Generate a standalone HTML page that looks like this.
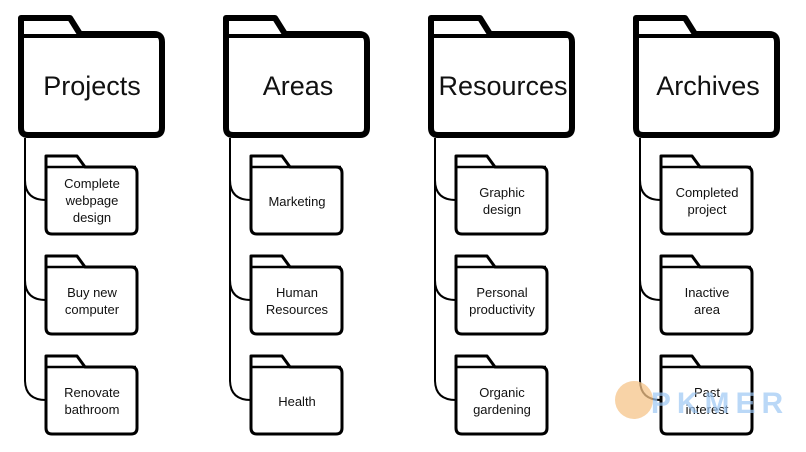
<!DOCTYPE html>
<html><head><style>
html,body{margin:0;padding:0;background:#fff;}
svg text{font-family:"Liberation Sans","DejaVu Sans",sans-serif;fill:#111;text-anchor:middle;}
</style></head><body>
<svg width="806" height="447" viewBox="0 0 806 447" xmlns="http://www.w3.org/2000/svg">
<defs>
<g id="col">
  <path d="M21 18 L70 18 L80 34 L154 34 Q162 34 162 42 L162 128 Q162 135 155 135 L28 135 Q21 135 21 128 Z" fill="#fff" stroke="#000" stroke-width="6" stroke-linejoin="round"/>
  <line x1="21" y1="36" x2="160" y2="36" stroke="#000" stroke-width="4"/>
  <path d="M25 138 L25 180 Q25 200 46 200" fill="none" stroke="#000" stroke-width="2"/>
  <path d="M25 180 L25 280 Q25 300 46 300" fill="none" stroke="#000" stroke-width="2"/>
  <path d="M25 280 L25 380 Q25 400 46 400" fill="none" stroke="#000" stroke-width="2"/>
  <g id="sf">
    <path d="M46 156 L77 156 L85 167 L131 167 Q137 167 137 173 L137 228 Q137 234 131 234 L52 234 Q46 234 46 228 Z" fill="#fff" stroke="#000" stroke-width="3" stroke-linejoin="round"/>
    <line x1="46" y1="167" x2="136" y2="167" stroke="#000" stroke-width="2.5"/>
  </g>
  <use href="#sf" y="100"/>
  <use href="#sf" y="200"/>
</g>
</defs>
<use href="#col" x="0"/>
<use href="#col" x="205"/>
<use href="#col" x="410"/>
<use href="#col" x="615"/>
<g font-size="27">
<text x="92" y="95">Projects</text>
<text x="298" y="95">Areas</text>
<text x="503" y="95">Resources</text>
<text x="708" y="95">Archives</text>
</g>
<g font-size="13">
<text x="92" y="188">Complete</text><text x="92" y="205">webpage</text><text x="92" y="222">design</text>
<text x="92" y="297">Buy new</text><text x="92" y="314">computer</text>
<text x="92" y="397">Renovate</text><text x="92" y="414">bathroom</text>
<text x="297" y="206">Marketing</text>
<text x="297" y="297">Human</text><text x="297" y="314">Resources</text>
<text x="297" y="406">Health</text>
<text x="502" y="197">Graphic</text><text x="502" y="214">design</text>
<text x="502" y="297">Personal</text><text x="502" y="314">productivity</text>
<text x="502" y="397">Organic</text><text x="502" y="414">gardening</text>
<text x="707" y="197">Completed</text><text x="707" y="214">project</text>
<text x="707" y="297">Inactive</text><text x="707" y="314">area</text>
<text x="707" y="397">Past</text><text x="707" y="414">interest</text>
</g>
<circle cx="634" cy="400" r="19" fill="#f5c48a" opacity="0.75"/>
<text x="720" y="413" font-size="30" font-weight="bold" style="fill:#9ec8f5;opacity:0.7;letter-spacing:6px">PKMER</text>
</svg>
</body></html>
